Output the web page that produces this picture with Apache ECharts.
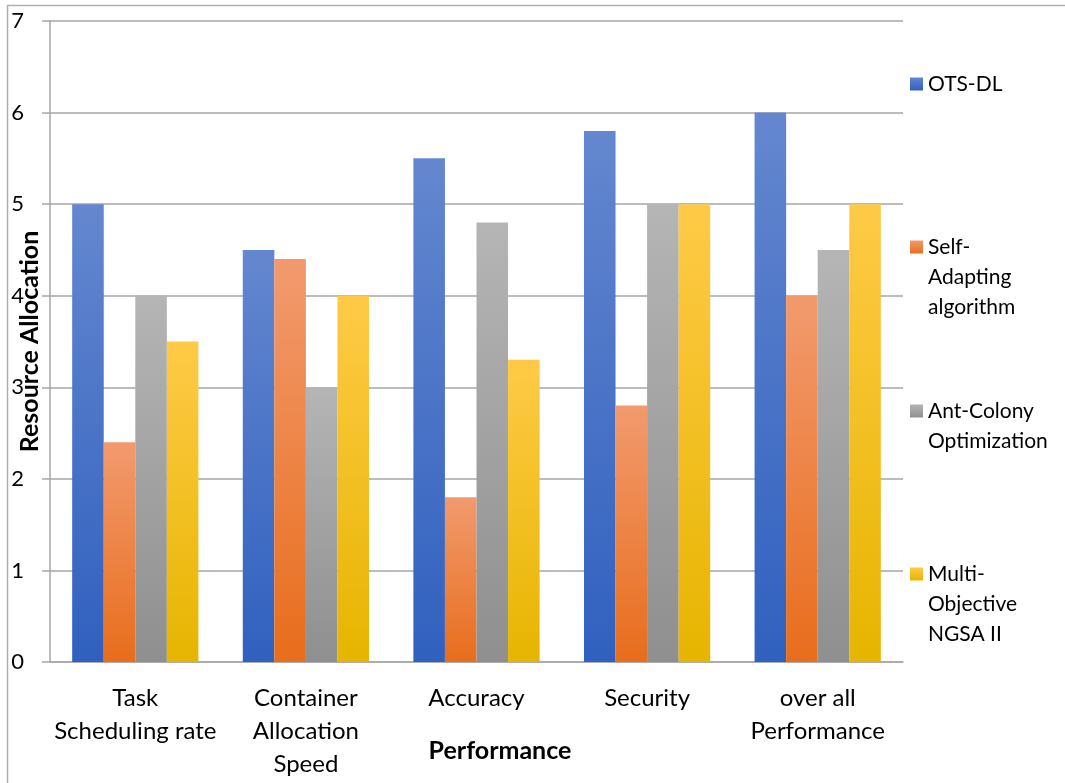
<!DOCTYPE html>
<html>
<head>
<meta charset="utf-8">
<title>Resource Allocation by Performance</title>
<script src="https://cdn.jsdelivr.net/npm/echarts@6/dist/echarts.min.js"></script>
<style>
  html, body { margin: 0; padding: 0; background: #ffffff; }
  #chart { width: 1065px; height: 783px; }
</style>
</head>
<body>
<div id="chart"></div>
<script>
// Performance categories along the x axis
const categories = [
  'Task\nScheduling rate',
  'Container\nAllocation\nSpeed',
  'Accuracy',
  'Security',
  'over all\nPerformance'
];

// Resource allocation scores per method
const otsDl         = [5.0, 4.5, 5.5, 5.8, 6.0];
const selfAdapting  = [2.4, 4.4, 1.8, 2.8, 4.0];
const antColony     = [4.0, 3.0, 4.8, 5.0, 4.5];
const multiObjective = [3.5, 4.0, 3.3, 5.0, 5.0];

// Series names; legend entries wrap onto several lines
const seriesNames = ['OTS-DL', 'Self-Adapting algorithm', 'Ant-Colony Optimization', 'Multi-Objective NGSA II'];
const legendLines = [
  ['OTS-DL'],
  ['Self-', 'Adapting', 'algorithm'],
  ['Ant-Colony', 'Optimization'],
  ['Multi-', 'Objective', 'NGSA II']
];

// Y axis range
const yMin = 0;
const yMax = 7;
const yStep = 1;

const FONT = 'Lato, "Open Sans", sans-serif';

// Vertical gradient per bar: lighter at the top, deeper at the base
function grad(top, bottom) {
  return new echarts.graphic.LinearGradient(0, 0, 0, 1, [
    { offset: 0, color: top },
    { offset: 1, color: bottom }
  ]);
}
const fills = [
  grad('#6487cf', '#3060bf'),
  grad('#f29a6e', '#e86d1c'),
  grad('#b5b5b5', '#8f8f8f'),
  grad('#ffca47', '#e6b500')
];
const swatch = ['#4a74c9', '#ec7f3e', '#a3a3a3', '#f7c01f'];

const values = [otsDl, selfAdapting, antColony, multiObjective];

const LEGEND_LH = 30;
const legendCenters = [84, 247, 411, 574];

// One legend block per series so each sits beside its own band of the chart.
// The icon lines up with the first text line: pad the text above with blank lines.
const legends = legendLines.map((lines, i) => {
  const padded = new Array(lines.length - 1).fill('').concat(lines);
  const total = padded.length * LEGEND_LH;
  return {
    data: [seriesNames[i]],
    orient: 'vertical',
    left: 910,
    top: legendCenters[i] - total / 2,
    padding: 0,
    itemWidth: 13,
    itemHeight: 13,
    itemGap: 0,
    icon: 'rect',
    selectedMode: false,
    formatter: () => padded.join('\n'),
    textStyle: {
      fontFamily: FONT,
      fontSize: 21,
      lineHeight: LEGEND_LH,
      color: '#000000'
    }
  };
});

const chart = echarts.init(document.getElementById('chart'), null, { renderer: 'canvas' });

chart.setOption({
  backgroundColor: '#ffffff',
  animation: false,
  legend: legends,
  grid: {
    left: 50,
    right: 162,
    top: 21,
    bottom: 121,
    containLabel: false,
    outerBoundsMode: 'none'
  },
  xAxis: {
    type: 'category',
    data: categories,
    name: 'Performance',
    nameLocation: 'middle',
    nameGap: 76,
    nameMoveOverlap: false,
    nameTextStyle: {
      fontFamily: FONT,
      fontSize: 25,
      fontWeight: 'bold',
      color: '#000000',
      padding: [0, 0, 0, 47]
    },
    axisLine: { lineStyle: { color: '#a6a6a6', width: 1.5 } },
    axisTick: { show: false },
    axisLabel: {
      fontFamily: FONT,
      fontSize: 24,
      lineHeight: 33,
      color: '#000000',
      margin: 20,
      interval: 0
    }
  },
  yAxis: {
    type: 'value',
    min: yMin,
    max: yMax,
    interval: yStep,
    name: 'Resource Allocation',
    nameLocation: 'middle',
    nameGap: 8,
    nameMoveOverlap: false,
    nameTextStyle: {
      fontFamily: FONT,
      fontSize: 25,
      fontWeight: 'bold',
      color: '#000000'
    },
    axisLine: { show: true, lineStyle: { color: '#a6a6a6', width: 1.5 } },
    axisTick: { show: true, length: 8, lineStyle: { color: '#a6a6a6', width: 1.5 } },
    splitLine: { show: true, lineStyle: { color: '#a6a6a6', width: 1.5 } },
    axisLabel: {
      fontFamily: FONT,
      fontSize: 22,
      color: '#000000',
      margin: 26,
      align: 'right'
    }
  },
  series: values.map((data, i) => ({
    name: seriesNames[i],
    type: 'bar',
    data: data,
    barGap: '0%',
    barCategoryGap: '26%',
    color: swatch[i],
    itemStyle: { color: fills[i] },
    emphasis: { disabled: true }
  })),
  graphic: [
    {
      type: 'rect',
      silent: true,
      z: -1,
      shape: { x: 7.5, y: 5.5, width: 1200, height: 900 },
      style: { fill: null, stroke: '#b0b0b0', lineWidth: 1.5 }
    }
  ]
});
</script>
</body>
</html>
